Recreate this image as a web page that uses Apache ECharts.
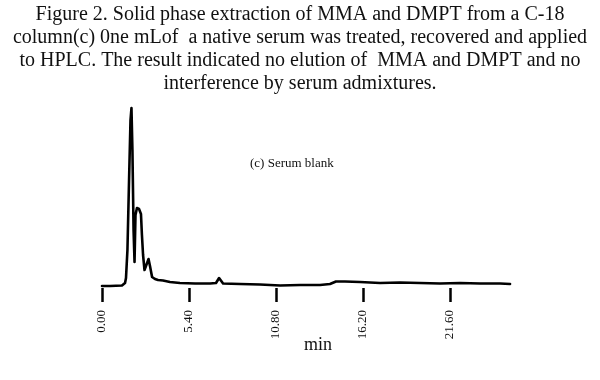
<!DOCTYPE html>
<html>
<head>
<meta charset="utf-8">
<script src="https://cdn.jsdelivr.net/npm/echarts@6/dist/echarts.min.js"></script>
<style>html,body{margin:0;padding:0;background:#fff;}#c{width:600px;height:380px;}</style>
</head>
<body>
<div id="c"></div>
<script>
var titleLines = [
  "Figure 2. Solid phase extraction of MMA and DMPT from a C-18",
  "column(c) 0ne mLof  a native serum was treated, recovered and applied",
  "to HPLC. The result indicated no elution of  MMA and DMPT and no",
  "interference by serum admixtures."
];
var annotation = "(c) Serum blank";
var axisName = "min";
var tickValues = [0, 5.4, 10.8, 16.2, 21.6];
var times = [0.00,0.50,1.24,1.43,1.49,1.58,1.68,1.77,1.83,1.89,1.96,2.02,2.08,2.17,2.30,2.42,2.48,2.55,2.64,2.76,2.89,2.98,3.11,3.29,3.48,3.79,4.22,4.84,5.78,6.71,7.08,7.27,7.39,7.52,8.57,9.81,11.06,12.30,13.54,14.16,14.53,15.09,16.02,17.27,18.51,19.75,20.99,22.24,23.48,24.72,25.34];
var intensity = [2,2,2.5,5,10,38,108,168,180,138,58,26,73,80,79,74,53,33,18,20,29,22,11,9,8,7.5,6,5,4.5,4.5,5,10,9,4.5,4,3.5,2.5,3,3,4,6.5,6.5,6,5,5.5,5,4.5,5,4.5,4.5,4];

var serif = "'Liberation Serif', 'DejaVu Serif', serif";
var chart = echarts.init(document.getElementById('c'), null, {renderer: 'canvas'});
var pts = times.map(function (t, i) { return [t, intensity[i]]; });
chart.setOption({
  animation: false,
  backgroundColor: '#ffffff',
  title: {
    text: titleLines.join('\n'),
    left: 'center',
    top: 3,
    padding: 0,
    textStyle: {fontFamily: serif, fontSize: 20, fontWeight: 'normal', color: '#111', lineHeight: 23, align: 'center'}
  },
  grid: {left: 102, right: 89, top: 88, bottom: 92},
  xAxis: {
    type: 'value', min: 0, max: 25.4, interval: 5.4,
    axisLine: {show: false},
    splitLine: {show: false},
    axisTick: {show: true, length: 14, customValues: tickValues, lineStyle: {color: '#000', width: 2.5}},
    axisLabel: {
      customValues: tickValues, rotate: 90, margin: 22,
      fontFamily: serif, fontSize: 13, color: '#111',
      formatter: function (v) { return Number(v).toFixed(2); }
    }
  },
  yAxis: {type: 'value', min: 0, max: 200, show: false},
  graphic: [
    {type: 'text', left: 250, top: 157, style: {text: annotation, font: "13px " + serif, fill: '#111'}},
    {type: 'text', left: 304, top: 336, style: {text: axisName, font: "18px " + serif, fill: '#111'}}
  ],
  series: [{
    type: 'line', data: pts, symbol: 'none', smooth: false,
    lineStyle: {color: '#000', width: 2.6, join: 'round', cap: 'round'}
  }]
});
</script>
</body>
</html>
